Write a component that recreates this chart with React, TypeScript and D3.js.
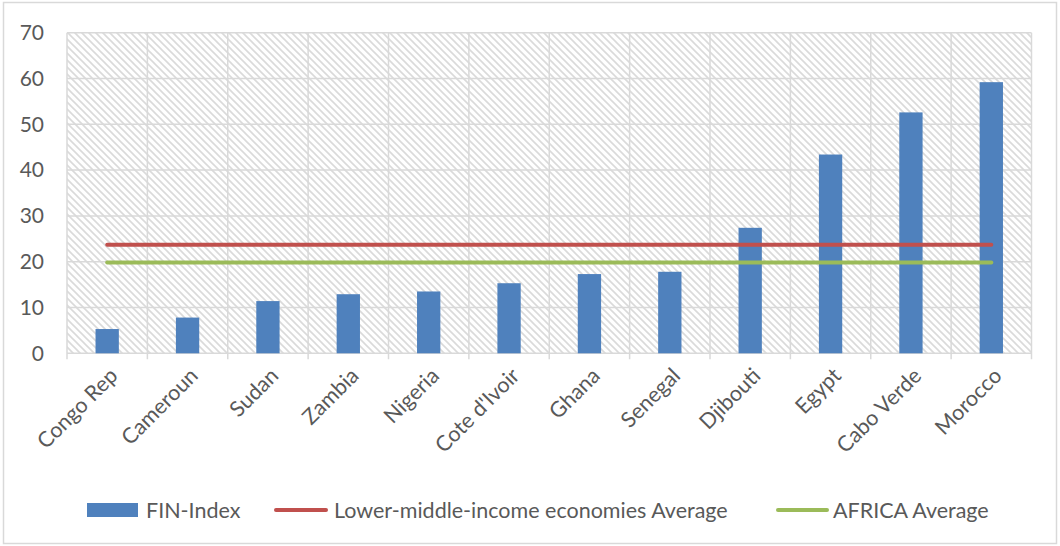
import React from 'react';
import * as d3 from 'd3';

const countries = ['Congo Rep', 'Cameroun', 'Sudan', 'Zambia', 'Nigeria', "Cote d'Ivoir", 'Ghana', 'Senegal', 'Djibouti', 'Egypt', 'Cabo Verde', 'Morocco'];
const finIndex = [5.3, 7.8, 11.4, 12.9, 13.5, 15.3, 17.3, 17.8, 27.4, 43.4, 52.6, 59.2];
const lmicAverage = countries.map(() => 23.7);
const africaAverage = countries.map(() => 19.8);
const yTicks = [0, 10, 20, 30, 40, 50, 60, 70];

const W = 1060;
const H = 546;
const margin = { top: 32.7, right: 28.5, bottom: 192.7, left: 67 };
const FONT = 'Lato, "Open Sans", sans-serif';
const TEXT = '#595959';
const GRID = '#d9d9d9';
const BLUE = '#4f81bd';
const RED = '#c0504d';
const GREEN = '#9bbb59';

const App: React.FC = () => {
  const x = d3.scaleBand<string>()
    .domain(countries)
    .range([margin.left, W - margin.right]);

  const y = d3.scaleLinear()
    .domain([0, 70])
    .range([H - margin.bottom, margin.top]);

  const barW = x.bandwidth() * 0.29;
  const center = (c: string) => (x(c) as number) + x.bandwidth() / 2;

  const line = d3.line<number>()
    .x((_, i) => center(countries[i]))
    .y(d => y(d));

  const boundaries = countries.map(c => x(c) as number).concat([W - margin.right]);

  return (
    <div style={{ position: 'absolute', left: 0, top: 0 }}>
      <svg width={W} height={H} style={{ display: 'block', fontFamily: FONT }}>
        <defs>
          <pattern id="hatch" width={7} height={7} patternUnits="userSpaceOnUse">
            <rect width={7} height={7} fill="#fff" />
            <path d="M-2,-2 L9,9 M-2,5 L2,9 M5,-2 L9,2" stroke="#dadada" strokeWidth={1.6} />
          </pattern>
        </defs>

        <rect x={0} y={0} width={W} height={H} fill="#fff" />
        <rect x={3.5} y={2.5} width={W - 7} height={H - 5} fill="none" stroke={GRID} strokeWidth={1.5} />

        {/* plot area */}
        <rect x={margin.left} y={margin.top} width={W - margin.left - margin.right}
          height={H - margin.top - margin.bottom} fill="url(#hatch)" />

        {/* grid */}
        {yTicks.map(t => (
          <line key={'h' + t} x1={margin.left} x2={W - margin.right} y1={y(t)} y2={y(t)} stroke={GRID} strokeWidth={1.5} />
        ))}
        {boundaries.map((b, i) => (
          <line key={'v' + i} x1={b} x2={b} y1={margin.top} y2={y(0) + 6} stroke={GRID} strokeWidth={1.5} />
        ))}

        {/* y labels */}
        {yTicks.map(t => (
          <text key={'yl' + t} x={44} y={y(t)} dy="0.35em" textAnchor="end" fontSize={21} fill={TEXT}>{t}</text>
        ))}

        {/* bars */}
        {countries.map((c, i) => (
          <rect key={'b' + c} x={center(c) - barW / 2} y={y(finIndex[i])} width={barW}
            height={y(0) - y(finIndex[i])} fill={BLUE} />
        ))}

        {/* average lines */}
        <path d={line(lmicAverage) || ''} fill="none" stroke={RED} strokeWidth={4} strokeLinecap="round" />
        <path d={line(africaAverage) || ''} fill="none" stroke={GREEN} strokeWidth={4} strokeLinecap="round" />

        {/* x labels */}
        {countries.map(c => (
          <text key={'xl' + c} transform={`translate(${center(c) + 1},${y(0) + 13}) rotate(-45)`}
            textAnchor="end" dy="0.71em" fontSize={21.5} fill={TEXT}>{c}</text>
        ))}

        {/* legend */}
        <g fontSize={21.5} fill={TEXT}>
          <rect x={87} y={503} width={51} height={14} fill={BLUE} />
          <text x={146} y={510} dy="0.35em">FIN-Index</text>
          <line x1={276} x2={326} y1={510} y2={510} stroke={RED} strokeWidth={4} strokeLinecap="round" />
          <text x={334} y={510} dy="0.35em">Lower-middle-income economies Average</text>
          <line x1={778} x2={827} y1={510} y2={510} stroke={GREEN} strokeWidth={4} strokeLinecap="round" />
          <text x={833} y={510} dy="0.35em">AFRICA Average</text>
        </g>
      </svg>
    </div>
  );
};

export default App;
